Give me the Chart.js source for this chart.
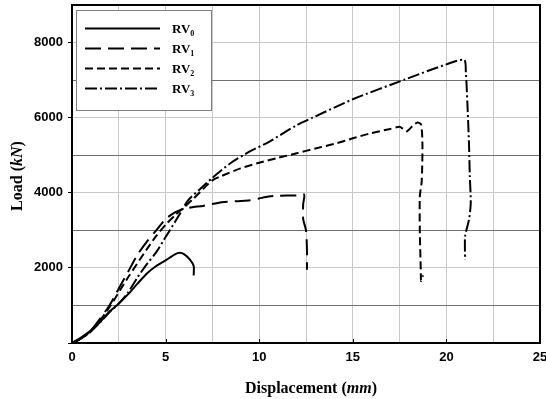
<!DOCTYPE html>
<html>
<head>
<meta charset="utf-8">
<script src="https://cdn.jsdelivr.net/npm/chart.js@4.4.1/dist/chart.umd.min.js"></script>
<style>
  html, body { margin: 0; padding: 0; background: #fff; }
  canvas { display: block; }
</style>
</head>
<body>
<canvas id="grafico" width="546" height="399"></canvas>
<script>
// DADOS
const seriesNames = ['RV0', 'RV1', 'RV2', 'RV3'];

const rv0Disp = [0, 0.5, 1.0, 1.5, 2.0, 2.5, 3.0, 3.5, 4.0, 4.5, 5.0, 5.5, 5.75, 6.0, 6.3, 6.5, 6.5];
const rv0Load = [0, 150, 330, 560, 830, 1050, 1300, 1580, 1850, 2050, 2200, 2360, 2400, 2360, 2220, 2050, 1800];

const rv1Disp = [0, 0.5, 1.0, 1.5, 2.0, 2.5, 3.0, 3.5, 4.0, 4.5, 5.0, 5.5, 6.0, 6.5, 7.0, 8.0, 9.0, 9.5, 10.0, 10.5, 11.0, 12.0, 12.4, 12.35, 12.35, 12.5, 12.55, 12.55];
const rv1Load = [0, 130, 330, 650, 1000, 1450, 1900, 2350, 2700, 3000, 3300, 3480, 3580, 3620, 3650, 3750, 3780, 3800, 3850, 3900, 3920, 3930, 3950, 3700, 3300, 3000, 2500, 1950];

const rv2Disp = [0, 0.5, 1.0, 1.5, 2.0, 3.0, 4.0, 4.5, 5.0, 5.5, 6.0, 6.5, 7.0, 7.5, 8.0, 9.0, 10.0, 11.0, 12.0, 13.0, 14.0, 15.0, 16.0, 17.0, 17.5, 17.7, 17.9, 18.2, 18.45, 18.65, 18.72, 18.68, 18.58, 18.58, 18.63, 18.65, 18.75];
const rv2Load = [0, 120, 320, 600, 950, 1750, 2500, 2850, 3150, 3400, 3620, 3850, 4100, 4330, 4450, 4650, 4800, 4930, 5050, 5180, 5300, 5450, 5590, 5700, 5760, 5690, 5640, 5780, 5870, 5820, 5250, 4300, 3900, 3000, 1950, 1650, 1800];

const rv3Disp = [0, 0.5, 1.0, 1.5, 2.0, 2.5, 3.0, 3.5, 4.0, 4.5, 5.0, 5.5, 5.8, 6.2, 6.8, 7.5, 8.5, 9.5, 10.5, 12.0, 12.85, 15.0, 17.8, 20.0, 20.95, 21.04, 21.12, 21.21, 21.25, 21.3, 21.21, 21.0, 21.0];
const rv3Load = [0, 120, 300, 550, 820, 1050, 1350, 1750, 2100, 2420, 2820, 3220, 3470, 3800, 4080, 4400, 4800, 5100, 5350, 5800, 6000, 6490, 7020, 7420, 7540, 7200, 6400, 5250, 4450, 3730, 3290, 2840, 2220];

const xTicksMin = 0, xTicksMax = 25, xStep = 2.5;
const yTicksMin = 0, yTicksMax = 9000, yStep = 1000;

const pares = (xs, ys) => xs.map((x, i) => ({ x, y: ys[i] }));

const estilos = [
  { dash: [] },
  { dash: [16, 7] },
  { dash: [8, 4] },
  { dash: [12, 3, 2, 3] }
];

const dadosSeries = [
  pares(rv0Disp, rv0Load),
  pares(rv1Disp, rv1Load),
  pares(rv2Disp, rv2Load),
  pares(rv3Disp, rv3Load)
];

// MOLDURA + TICKS INTERNOS
const moldura = {
  id: 'moldura',
  afterDatasetsDraw(chart) {
    const { ctx, chartArea: a, scales } = chart;
    ctx.save();
    ctx.strokeStyle = '#000';
    ctx.lineWidth = 1;
    scales.x.ticks.forEach(t => {
      if (t.value % 5 !== 0) return;
      const px = Math.round(scales.x.getPixelForValue(t.value)) + 0.5;
      ctx.beginPath();
      ctx.moveTo(px, a.bottom);
      ctx.lineTo(px, a.bottom - 4);
      ctx.stroke();
    });
    ctx.lineWidth = 2;
    ctx.strokeRect(a.left, a.top, a.right - a.left, a.bottom - a.top);
    ctx.restore();
  }
};

// LEGENDA COM SUBSCRITO
const legenda = {
  id: 'legenda',
  afterDraw(chart) {
    const { ctx } = chart;
    ctx.save();
    ctx.fillStyle = '#fff';
    ctx.fillRect(76.5, 10.5, 135, 100);
    ctx.strokeStyle = '#808080';
    ctx.lineWidth = 1;
    ctx.strokeRect(76.5, 10.5, 135, 100);

    chart.data.datasets.forEach((ds, i) => {
      const y = 28.5 + 20 * i;
      ctx.strokeStyle = '#000';
      ctx.lineWidth = 2;
      ctx.setLineDash(ds.borderDash || []);
      ctx.beginPath();
      ctx.moveTo(85, y);
      ctx.lineTo(160, y);
      ctx.stroke();
      ctx.setLineDash([]);

      ctx.fillStyle = '#000';
      ctx.textBaseline = 'alphabetic';
      ctx.font = 'bold 13px "Liberation Serif"';
      const base = ds.label.slice(0, 2);
      const sub = ds.label.slice(2);
      ctx.fillText(base, 172, y + 4.5);
      const w = ctx.measureText(base).width;
      ctx.font = 'bold 8px "Liberation Serif"';
      ctx.fillText(sub, 172 + w, y + 7);
    });
    ctx.restore();
  }
};

// TITULOS DOS EIXOS (com itálico)
function textoMisto(ctx, partes, cx, cy) {
  let total = 0;
  partes.forEach(p => {
    ctx.font = p.font;
    total += ctx.measureText(p.t).width;
  });
  let x = cx - total / 2;
  partes.forEach(p => {
    ctx.font = p.font;
    ctx.fillText(p.t, x, cy);
    x += ctx.measureText(p.t).width;
  });
}

const titulos = {
  id: 'titulos',
  afterDraw(chart) {
    const { ctx } = chart;
    const b = 'bold 16px "Liberation Serif"';
    const bi = 'italic bold 16px "Liberation Serif"';
    ctx.save();
    ctx.fillStyle = '#000';
    ctx.textBaseline = 'alphabetic';
    textoMisto(ctx, [
      { t: 'Displacement (', font: b },
      { t: 'mm', font: bi },
      { t: ')', font: b }
    ], 311, 393);

    ctx.translate(22, 176);
    ctx.rotate(-Math.PI / 2);
    textoMisto(ctx, [
      { t: 'Load (', font: b },
      { t: 'kN', font: bi },
      { t: ')', font: b }
    ], 0, 0);
    ctx.restore();
  }
};

new Chart(document.getElementById('grafico').getContext('2d'), {
  type: 'scatter',
  data: {
    datasets: dadosSeries.map((d, i) => ({
      label: seriesNames[i],
      data: d,
      showLine: true,
      borderColor: '#000',
      backgroundColor: '#000',
      borderWidth: 2,
      borderDash: estilos[i].dash,
      pointRadius: 0,
      tension: 0.25,
      fill: false
    }))
  },
  options: {
    responsive: false,
    animation: false,
    layout: { padding: { top: 5, right: 6, left: 0, bottom: 0 } },
    plugins: {
      legend: { display: false },
      tooltip: { enabled: false }
    },
    scales: {
      x: {
        type: 'linear',
        min: xTicksMin,
        max: xTicksMax,
        afterFit(scale) {
          scale.height = 56;
          scale.paddingLeft = 0;
          scale.paddingRight = 0;
        },
        ticks: {
          stepSize: xStep,
          padding: 7,
          color: '#000',
          font: { family: '"Liberation Sans"', size: 13, weight: 'bold' },
          maxRotation: 0,
          autoSkip: false,
          callback: v => (v % 5 === 0 ? v : '')
        },
        grid: { color: '#c8c8c8', lineWidth: 1, drawTicks: false },
        border: { display: false }
      },
      y: {
        min: yTicksMin,
        max: yTicksMax,
        afterFit(scale) {
          scale.width = 72;
          scale.paddingTop = 0;
          scale.paddingBottom = 0;
        },
        ticks: {
          stepSize: yStep,
          padding: 5,
          color: '#000',
          font: { family: '"Liberation Sans"', size: 13, weight: 'bold' },
          autoSkip: false,
          callback: v => (v % 2000 === 0 && v > 0 && v < 9000 ? v : '')
        },
        grid: {
          lineWidth: 1,
          tickLength: 4,
          color: c => (c.tick && c.tick.value % 2000 === 0 ? '#c8c8c8' : '#707070'),
          tickColor: c => (c.tick && c.tick.value % 2000 === 0 ? '#000' : 'rgba(0,0,0,0)')
        },
        border: { display: false }
      }
    }
  },
  plugins: [moldura, legenda, titulos]
});
</script>
</body>
</html>
